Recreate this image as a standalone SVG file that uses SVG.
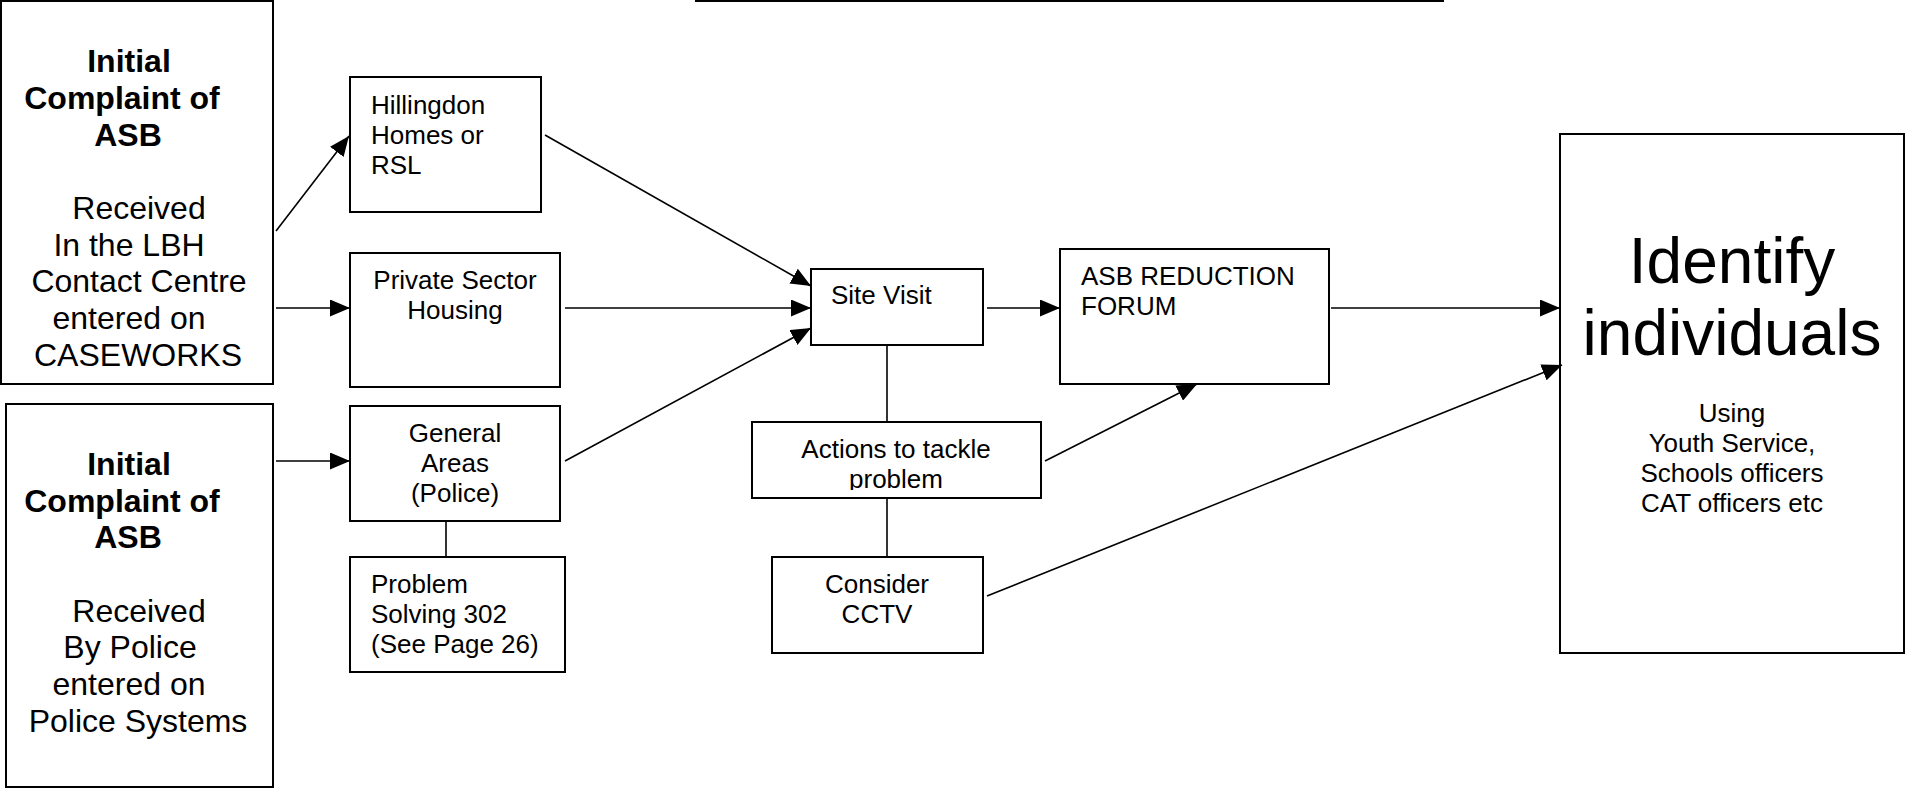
<svg xmlns="http://www.w3.org/2000/svg" width="1906" height="788" viewBox="0 0 1906 788">
<style>
.box{fill:#fff;stroke:#000;stroke-width:2}
.t{font-family:"Liberation Sans",Arial,sans-serif;font-size:26px;fill:#000}
.c{text-anchor:middle}
.big{font-family:"Liberation Sans",Arial,sans-serif;font-size:32px;fill:#000;text-anchor:middle}
.b{font-weight:bold}
.huge{font-family:"Liberation Sans",Arial,sans-serif;font-size:64px;fill:#000;text-anchor:middle}
.ln{stroke:#000;stroke-width:1.6;fill:none}
.ar{stroke:#000;stroke-width:1.6;fill:none;marker-end:url(#ah)}
</style>
<defs>
<marker id="ah" viewBox="0 0 20 17" refX="20" refY="8.5" markerWidth="20" markerHeight="17" markerUnits="userSpaceOnUse" orient="auto">
<path d="M0,0 L20,8.5 L0,17 z" fill="#000"/>
</marker>
<clipPath id="actClip"><rect x="752" y="422" width="289" height="68"/></clipPath>
</defs>
<rect width="1906" height="788" fill="#fff"/>
<line x1="695" y1="1" x2="1444" y2="1" stroke="#000" stroke-width="2"/>

<g id="complaint-lbh">
<rect class="box" x="1" y="1" width="272" height="383"/>
<text class="big b" x="129" y="72">Initial</text>
<text class="big b" x="122" y="109">Complaint of</text>
<text class="big b" x="128" y="146">ASB</text>
<text class="big" x="139" y="219">Received</text>
<text class="big" x="129" y="256">In the LBH</text>
<text class="big" x="139" y="292">Contact Centre</text>
<text class="big" x="129" y="329">entered on</text>
<text class="big" x="138" y="366">CASEWORKS</text>
</g>

<g id="complaint-police">
<rect class="box" x="6" y="404" width="267" height="383"/>
<text class="big b" x="129" y="475">Initial</text>
<text class="big b" x="122" y="512">Complaint of</text>
<text class="big b" x="128" y="548">ASB</text>
<text class="big" x="139" y="622">Received</text>
<text class="big" x="130" y="658">By Police</text>
<text class="big" x="129" y="695">entered on</text>
<text class="big" x="138" y="732">Police Systems</text>
</g>

<g id="hillingdon">
<rect class="box" x="350" y="77" width="191" height="135"/>
<text class="t" x="371" y="114">Hillingdon</text>
<text class="t" x="371" y="144">Homes or</text>
<text class="t" x="371" y="174">RSL</text>
</g>

<g id="private-sector">
<rect class="box" x="350" y="253" width="210" height="134"/>
<text class="t c" x="455" y="289">Private Sector</text>
<text class="t c" x="455" y="319">Housing</text>
</g>

<g id="general-areas">
<rect class="box" x="350" y="406" width="210" height="115"/>
<text class="t c" x="455" y="442">General</text>
<text class="t c" x="455" y="472">Areas</text>
<text class="t c" x="455" y="502">(Police)</text>
</g>

<g id="problem-solving">
<rect class="box" x="350" y="557" width="215" height="115"/>
<text class="t" x="371" y="593">Problem</text>
<text class="t" x="371" y="623">Solving 302</text>
<text class="t" x="371" y="653">(See Page 26)</text>
</g>

<g id="site-visit">
<rect class="box" x="811" y="269" width="172" height="76"/>
<text class="t" x="831" y="304">Site Visit</text>
</g>

<g id="actions">
<rect class="box" x="752" y="422" width="289" height="76"/>
<g clip-path="url(#actClip)">
<text class="t c" x="896" y="458">Actions to tackle</text>
<text class="t c" x="896" y="488">problem</text>
</g>
</g>

<g id="cctv">
<rect class="box" x="772" y="557" width="211" height="96"/>
<text class="t c" x="877" y="593">Consider</text>
<text class="t c" x="877" y="623">CCTV</text>
</g>

<g id="asb-forum">
<rect class="box" x="1060" y="249" width="269" height="135"/>
<text class="t" x="1081" y="285">ASB REDUCTION</text>
<text class="t" x="1081" y="315">FORUM</text>
</g>

<g id="identify">
<rect class="box" x="1560" y="134" width="344" height="519"/>
<text class="huge" x="1732" y="283">Identify</text>
<text class="huge" x="1732" y="355">individuals</text>
<text class="t c" x="1732" y="422">Using</text>
<text class="t c" x="1732" y="452">Youth Service,</text>
<text class="t c" x="1732" y="482">Schools officers</text>
<text class="t c" x="1732" y="512">CAT officers etc</text>
</g>

<g id="connectors">
<line class="ar" x1="276" y1="231" x2="349" y2="136"/>
<line class="ar" x1="276" y1="308" x2="350" y2="308"/>
<line class="ar" x1="276" y1="461" x2="350" y2="461"/>
<line class="ar" x1="545" y1="135" x2="811" y2="286"/>
<line class="ar" x1="565" y1="308" x2="811" y2="308"/>
<line class="ar" x1="565" y1="461" x2="811" y2="328"/>
<line class="ar" x1="987" y1="308" x2="1060" y2="308"/>
<line class="ar" x1="1331" y1="308" x2="1560" y2="308"/>
<line class="ar" x1="1045" y1="461" x2="1197" y2="384"/>
<line class="ar" x1="987" y1="596" x2="1562" y2="365"/>
<line class="ln" x1="887" y1="345" x2="887" y2="422"/>
<line class="ln" x1="887" y1="498" x2="887" y2="557"/>
<line class="ln" x1="446" y1="521" x2="446" y2="557"/>
</g>
</svg>
